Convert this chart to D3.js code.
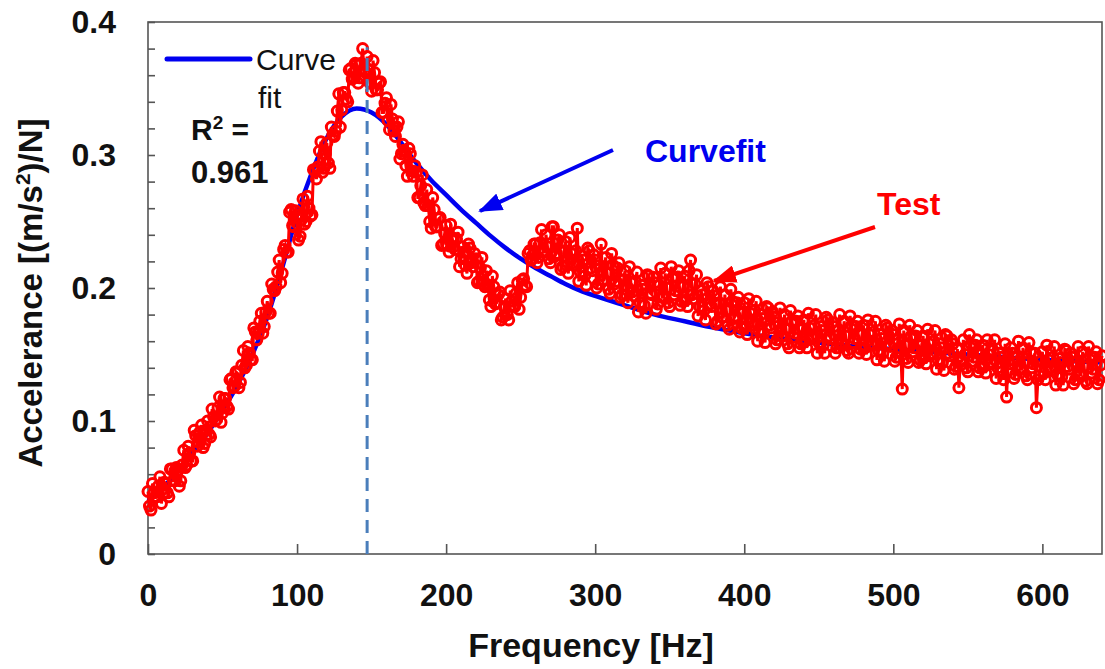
<!DOCTYPE html>
<html>
<head>
<meta charset="utf-8">
<script src="https://cdn.jsdelivr.net/npm/d3@7"></script>
<style>
  body { margin: 0; background: #fff; }
  text { font-family: "Liberation Sans", Arial, sans-serif; }
</style>
</head>
<body>
<div id="mychart"></div>
<script>
// curve fit (blue)
var fitFreq = [0,10,20,30,40,50,60,70,80,90,100,110,120,130,140,150,160,170,180,190,200,210,220,230,240,250,260,270,280,290,300,320,340,360,380,400,425,450,475,500,550,600,640];
var fitValues = [0.040,0.050,0.062,0.076,0.091,0.108,0.127,0.150,0.178,0.215,
  0.255,0.287,0.313,0.329,0.335,0.332,0.323,0.309,0.294,0.281,
  0.270,0.259,0.249,0.239,0.230,0.222,0.215,0.209,0.203,0.198,
  0.194,0.187,0.180,0.175,0.170,0.166,0.162,0.159,0.156,0.154,
  0.150,0.146,0.144];

// measured test data (red), read at the even frequencies 0, 2, ... 640 Hz
var testFreqEven = d3.range(0, 641, 2);
var testValuesEven = [
  0.047,0.033,0.046,0.043,0.058,0.045,0.053,0.043,0.064,0.055,
  0.063,0.055,0.078,0.067,0.076,0.070,0.089,0.084,0.097,0.083,
  0.100,0.088,0.103,0.101,0.118,0.106,0.117,0.109,0.132,0.126,
  0.136,0.129,0.153,0.142,0.151,0.146,0.167,0.166,0.181,0.171,
  0.190,0.181,0.199,0.201,0.221,0.211,0.232,0.227,0.259,0.246,
  0.255,0.239,0.267,0.250,0.260,0.255,0.288,0.291,0.310,0.290,
  0.309,0.290,0.315,0.318,0.346,0.334,0.347,0.340,0.365,0.358,
  0.368,0.358,0.380,0.362,0.364,0.348,0.362,0.349,0.355,0.332,
  0.343,0.319,0.327,0.314,0.325,0.301,0.303,0.284,0.301,0.284,
  0.287,0.268,0.285,0.262,0.262,0.245,0.259,0.246,0.253,0.233,
  0.247,0.227,0.238,0.229,0.242,0.222,0.227,0.211,0.230,0.216,
  0.222,0.205,0.223,0.201,0.202,0.186,0.201,0.189,0.197,0.178,
  0.192,0.176,0.190,0.186,0.204,0.193,0.207,0.201,0.228,0.222,
  0.233,0.223,0.244,0.227,0.231,0.219,0.246,0.226,0.240,0.216,
  0.235,0.211,0.226,0.217,0.245,0.212,0.221,0.202,0.228,0.213,
  0.221,0.203,0.233,0.206,0.211,0.196,0.217,0.205,0.219,0.195,
  0.213,0.189,0.204,0.194,0.212,0.189,0.199,0.181,0.209,0.195,
  0.204,0.188,0.215,0.193,0.200,0.186,0.208,0.198,0.213,0.190,
  0.209,0.186,0.221,0.192,0.210,0.186,0.195,0.176,0.201,0.186,
  0.194,0.175,0.201,0.178,0.183,0.169,0.190,0.179,0.193,0.170,
  0.189,0.165,0.181,0.172,0.190,0.168,0.177,0.159,0.185,0.170,
  0.178,0.161,0.185,0.164,0.169,0.155,0.175,0.166,0.179,0.158,
  0.176,0.155,0.170,0.162,0.180,0.159,0.168,0.151,0.176,0.162,
  0.171,0.155,0.180,0.158,0.164,0.151,0.172,0.162,0.175,0.154,
  0.172,0.150,0.165,0.157,0.175,0.153,0.162,0.145,0.170,0.156,
  0.165,0.148,0.173,0.124,0.157,0.144,0.164,0.155,0.168,0.146,
  0.164,0.143,0.158,0.150,0.168,0.146,0.155,0.138,0.164,0.149,
  0.158,0.141,0.125,0.145,0.150,0.137,0.158,0.148,0.161,0.140,
  0.157,0.136,0.150,0.143,0.161,0.140,0.148,0.131,0.118,0.143,
  0.151,0.135,0.160,0.139,0.144,0.131,0.152,0.143,0.110,0.134,
  0.152,0.131,0.146,0.138,0.156,0.135,0.144,0.127,0.153,0.139,
  0.148,0.131,0.156,0.135,0.141,0.128,0.149,0.139,0.152,0.131,
  0.149];

// measured test data (red), read at the odd frequencies 1, 3, ... 639 Hz
var testFreqOdd = d3.range(1, 640, 2);
var testValuesOdd = [
  0.036,0.053,0.043,0.051,0.038,0.054,0.046,0.064,0.055,0.065,
  0.051,0.067,0.065,0.081,0.070,0.093,0.081,0.092,0.080,0.093,
  0.090,0.109,0.100,0.110,0.099,0.117,0.111,0.131,0.125,0.137,
  0.125,0.142,0.140,0.156,0.146,0.170,0.161,0.175,0.166,0.182,
  0.181,0.203,0.198,0.212,0.204,0.229,0.227,0.257,0.247,0.258,
  0.236,0.254,0.248,0.269,0.254,0.289,0.282,0.303,0.287,0.301,
  0.294,0.321,0.314,0.333,0.321,0.347,0.342,0.364,0.357,0.369,
  0.354,0.369,0.363,0.374,0.354,0.371,0.349,0.354,0.332,0.339,
  0.326,0.338,0.318,0.321,0.297,0.308,0.292,0.305,0.288,0.292,
  0.268,0.277,0.264,0.274,0.250,0.268,0.246,0.252,0.232,0.241,
  0.232,0.248,0.231,0.237,0.216,0.231,0.217,0.233,0.219,0.226,
  0.204,0.215,0.203,0.213,0.191,0.209,0.188,0.195,0.176,0.186,
  0.180,0.198,0.187,0.196,0.184,0.206,0.202,0.226,0.221,0.233,
  0.219,0.234,0.227,0.240,0.222,0.246,0.224,0.236,0.214,0.227,
  0.217,0.238,0.219,0.228,0.205,0.224,0.209,0.230,0.215,0.225,
  0.200,0.217,0.206,0.223,0.199,0.226,0.203,0.215,0.193,0.206,
  0.195,0.216,0.197,0.205,0.182,0.202,0.187,0.210,0.196,0.208,
  0.184,0.202,0.193,0.211,0.189,0.216,0.195,0.208,0.187,0.201,
  0.191,0.213,0.195,0.203,0.179,0.198,0.183,0.204,0.188,0.198,
  0.173,0.189,0.178,0.195,0.172,0.199,0.177,0.189,0.167,0.181,
  0.171,0.192,0.174,0.183,0.160,0.180,0.166,0.186,0.172,0.182,
  0.158,0.174,0.164,0.180,0.158,0.183,0.163,0.175,0.155,0.169,
  0.160,0.181,0.164,0.172,0.151,0.171,0.157,0.178,0.164,0.174,
  0.151,0.168,0.159,0.175,0.153,0.179,0.159,0.171,0.151,0.165,
  0.155,0.176,0.158,0.167,0.146,0.165,0.151,0.172,0.158,0.168,
  0.145,0.161,0.152,0.168,0.147,0.172,0.152,0.164,0.144,0.157,
  0.148,0.169,0.151,0.160,0.139,0.158,0.144,0.165,0.151,0.161,
  0.139,0.154,0.145,0.161,0.140,0.165,0.145,0.157,0.137,0.150,
  0.141,0.161,0.144,0.153,0.132,0.151,0.137,0.158,0.145,0.155,
  0.132,0.148,0.139,0.155,0.134,0.159,0.140,0.151,0.131,0.145,
  0.136,0.157,0.140,0.148,0.127,0.147,0.133,0.154,0.141,0.151,
  0.128,0.144,0.135,0.152,0.130,0.156,0.136,0.148,0.128,0.142];

var peakFreq = 147;
var peakValue = 0.381;
var xTicks = [0, 100, 200, 300, 400, 500, 600];
var yTicks = [0, 0.1, 0.2, 0.3, 0.4];
var yMinorTicks = [0,0.02,0.04,0.06,0.08,0.1,0.12,0.14,0.16,0.18,0.2,0.22,0.24,0.26,0.28,0.3,0.32,0.34,0.36,0.38,0.4];

var layout = {top: 22, bottom: 115, left: 148, right: 3};
var width = 1105 - layout.left - layout.right;
var height = 669 - layout.top - layout.bottom;

var root = d3.select("#mychart")
    .append("svg")
    .attr("width", 1105)
    .attr("height", 669);

var svg = root.append("g")
    .attr("transform", "translate(" + layout.left + "," + layout.top + ")");

var x = d3.scaleLinear().domain([0, 640]).range([0, width]);
var y = d3.scaleLinear().domain([0, 0.4]).range([height, 0]);

var axisColor = "#555";

// frame
svg.append("rect")
    .attr("width", width)
    .attr("height", height)
    .attr("fill", "none")
    .attr("stroke", axisColor)
    .attr("stroke-width", 1.6);

// y minor + major ticks (inward)
svg.append("g")
    .call(d3.axisLeft(y).tickValues(yMinorTicks).tickSize(-7).tickFormat(""))
    .call(function(g) { g.select(".domain").remove(); })
    .selectAll("line").attr("stroke", axisColor).attr("stroke-width", 1.6);

svg.append("g")
    .call(d3.axisLeft(y).tickValues(yTicks).tickSize(0).tickPadding(32).tickFormat(d3.format("")))
    .call(function(g) { g.select(".domain").remove(); })
    .selectAll("text")
    .attr("fill", "#111")
    .style("font-size", "32px")
    .style("font-weight", "bold");

// x ticks
svg.append("g")
    .attr("transform", "translate(0," + height + ")")
    .call(d3.axisBottom(x).tickValues(xTicks).tickSize(-10).tickPadding(29))
    .call(function(g) { g.select(".domain").remove(); })
    .call(function(g) { g.selectAll("line").attr("stroke", axisColor).attr("stroke-width", 1.6); })
    .selectAll("text")
    .attr("fill", "#111")
    .style("font-size", "32px")
    .style("font-weight", "bold");

// axis titles
root.append("text")
    .attr("x", 591)
    .attr("y", 657)
    .attr("text-anchor", "middle")
    .attr("fill", "#111")
    .style("font-size", "34px")
    .style("font-weight", "bold")
    .text("Frequency [Hz]");

var ytitle = root.append("text")
    .attr("transform", "translate(42,293) rotate(-90)")
    .attr("text-anchor", "middle")
    .attr("fill", "#111")
    .style("font-size", "33px")
    .style("font-weight", "bold");
ytitle.append("tspan").text("Accelerance [(m/s");
ytitle.append("tspan").attr("dy", -12).style("font-size", "21px").text("2");
ytitle.append("tspan").attr("dy", 12).text(")/N]");

// curve fit
var fitData = fitFreq.map(function(f, i) { return {f: f, v: fitValues[i]}; });
svg.append("path")
    .datum(fitData)
    .attr("fill", "none")
    .attr("stroke", "#0000f0")
    .attr("stroke-width", 4.5)
    .attr("d", d3.line()
        .curve(d3.curveMonotoneX)
        .x(function(d) { return x(d.f); })
        .y(function(d) { return y(d.v); }));

// test data
var testData = testFreqEven.map(function(f, i) { return {f: f, v: testValuesEven[i]}; })
    .concat(testFreqOdd.map(function(f, i) { return {f: f, v: testValuesOdd[i]}; }))
    .sort(function(a, b) { return a.f - b.f; });

svg.append("path")
    .datum(testData)
    .attr("fill", "none")
    .attr("stroke", "#ff0000")
    .attr("stroke-width", 3)
    .attr("d", d3.line()
        .x(function(d) { return x(d.f); })
        .y(function(d) { return y(d.v); }));

svg.selectAll("circle.test")
    .data(testData)
    .enter()
    .append("circle")
    .attr("class", "test")
    .attr("cx", function(d) { return x(d.f); })
    .attr("cy", function(d) { return y(d.v); })
    .attr("r", 5)
    .attr("fill", "none")
    .attr("stroke", "#ff0000")
    .attr("stroke-width", 3);

// resonance line
svg.append("line")
    .attr("x1", x(peakFreq))
    .attr("x2", x(peakFreq))
    .attr("y1", y(0))
    .attr("y2", y(peakValue))
    .attr("stroke", "#4a7ebb")
    .attr("stroke-width", 3)
    .attr("stroke-dasharray", "13,8");

// legend
root.append("line")
    .attr("x1", 167).attr("x2", 250)
    .attr("y1", 59).attr("y2", 59)
    .attr("stroke", "#0000f0")
    .attr("stroke-width", 5)
    .attr("stroke-linecap", "round");
root.append("text").attr("x", 256).attr("y", 70)
    .style("font-size", "30px").attr("fill", "#111").text("Curve");
root.append("text").attr("x", 258).attr("y", 108)
    .style("font-size", "30px").attr("fill", "#111").text("fit");

var r2 = root.append("text").attr("x", 191).attr("y", 140)
    .style("font-size", "30px").style("font-weight", "bold").attr("fill", "#111");
r2.append("tspan").text("R");
r2.append("tspan").attr("dy", -11).style("font-size", "19px").text("2");
r2.append("tspan").attr("dy", 11).text(" =");
root.append("text").attr("x", 191).attr("y", 183)
    .style("font-size", "31px").style("font-weight", "bold").attr("fill", "#111").text("0.961");

// arrows
var defs = root.append("defs");
function arrowHead(id, color) {
  defs.append("marker")
      .attr("id", id)
      .attr("markerUnits", "userSpaceOnUse")
      .attr("markerWidth", 24)
      .attr("markerHeight", 18)
      .attr("refX", 22)
      .attr("refY", 9)
      .attr("orient", "auto")
      .append("path")
      .attr("d", "M0,0 L24,9 L0,18 Z")
      .attr("fill", color);
}
arrowHead("bluehead", "#0000f0");
arrowHead("redhead", "#ff0000");

root.append("line")
    .attr("x1", 613).attr("y1", 150)
    .attr("x2", 480).attr("y2", 211)
    .attr("stroke", "#0000f0")
    .attr("stroke-width", 4)
    .attr("marker-end", "url(#bluehead)");
root.append("text").attr("x", 645).attr("y", 162)
    .style("font-size", "32px").style("font-weight", "bold")
    .attr("fill", "#0000f0").text("Curvefit");

root.append("line")
    .attr("x1", 875).attr("y1", 227)
    .attr("x2", 714).attr("y2", 281)
    .attr("stroke", "#ff0000")
    .attr("stroke-width", 4)
    .attr("marker-end", "url(#redhead)");
root.append("text").attr("x", 877).attr("y", 215)
    .style("font-size", "32px").style("font-weight", "bold")
    .attr("fill", "#ff0000").text("Test");
</script>
</body>
</html>
